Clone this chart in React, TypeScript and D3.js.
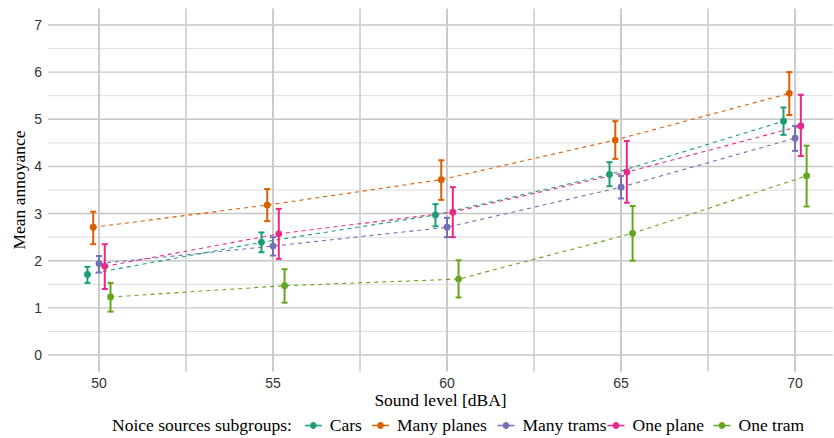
import React from "react";
import * as d3 from "d3";

const levels = [50, 55, 60, 65, 70];
const groups = ["Cars", "Many planes", "Many trams", "One plane", "One tram"];
const colors = ["#1B9E77", "#D95F02", "#7570B3", "#E7298A", "#66A61E"];

const carsMean = [1.71, 2.39, 2.97, 3.83, 4.96];
const manyPlanesMean = [2.71, 3.18, 3.72, 4.56, 5.55];
const manyTramsMean = [1.94, 2.31, 2.71, 3.56, 4.6];
const onePlaneMean = [1.88, 2.57, 3.03, 3.88, 4.86];
const oneTramMean = [1.23, 1.47, 1.61, 2.58, 3.8];

const carsLow = [1.53, 2.18, 2.73, 3.58, 4.67];
const manyPlanesLow = [2.35, 2.84, 3.29, 4.16, 5.09];
const manyTramsLow = [1.75, 2.11, 2.5, 3.32, 4.33];
const onePlaneLow = [1.4, 2.04, 2.5, 3.23, 4.22];
const oneTramLow = [0.92, 1.11, 1.22, 2.0, 3.15];

const carsHigh = [1.87, 2.6, 3.2, 4.09, 5.25];
const manyPlanesHigh = [3.04, 3.52, 4.13, 4.96, 6.0];
const manyTramsHigh = [2.1, 2.5, 2.91, 3.8, 4.86];
const onePlaneHigh = [2.35, 3.1, 3.56, 4.54, 5.52];
const oneTramHigh = [1.53, 1.82, 2.01, 3.16, 4.44];

const xTicks = [50, 55, 60, 65, 70];
const xMinor = [52.5, 57.5, 62.5, 67.5];
const yTicks = [0, 1, 2, 3, 4, 5, 6, 7];
const yMinor = [0.5, 1.5, 2.5, 3.5, 4.5, 5.5, 6.5];

const means = [carsMean, manyPlanesMean, manyTramsMean, onePlaneMean, oneTramMean];
const lows = [carsLow, manyPlanesLow, manyTramsLow, onePlaneLow, oneTramLow];
const highs = [carsHigh, manyPlanesHigh, manyTramsHigh, onePlaneHigh, oneTramHigh];

const W = 834;
const H = 438;
const panel = { left: 48, right: 833, top: 8.5, bottom: 371.5 };
const dodgeWidth = 0.83;

const legendTitleX = 112;
const legendKeyX = [313.3, 380.5, 506, 616, 722];
const legendTextGap = 16.5;

export default function App() {
  const x = d3.scaleLinear().domain([48.535, 71.09]).range([panel.left, panel.right]);
  const y = d3.scaleLinear().domain([-0.35, 7.35]).range([panel.bottom, panel.top]);
  const line = d3
    .line<[number, number]>()
    .x((d) => x(d[0]))
    .y((d) => y(d[1]));

  const series = groups.map((g, gi) => {
    const off = (gi - (groups.length - 1) / 2) * (dodgeWidth / groups.length);
    const pts = levels.map((lv, i) => ({
      x: lv + off,
      m: means[gi][i],
      lo: lows[gi][i],
      hi: highs[gi][i],
    }));
    return { g, gi, color: colors[gi], pts };
  });

  const sans = "'Liberation Sans', Arial, sans-serif";
  const serif = "'Liberation Serif', 'Times New Roman', serif";
  const titleSize = 17.5;

  return (
    <svg
      width={W}
      height={H}
      style={{ position: "absolute", left: 0, top: 0, background: "#fff" }}
    >
      {/* grid */}
      {yMinor.map((v) => (
        <line key={"ym" + v} x1={panel.left} x2={panel.right} y1={y(v)} y2={y(v)} stroke="#dcdcdc" strokeWidth={1} />
      ))}
      {yTicks.map((v) => (
        <line key={"yM" + v} x1={panel.left} x2={panel.right} y1={y(v)} y2={y(v)} stroke="#c6c6c6" strokeWidth={1.4} />
      ))}
      {xMinor.map((v) => (
        <line key={"xm" + v} x1={x(v)} x2={x(v)} y1={panel.top} y2={panel.bottom} stroke="#d2d2d2" strokeWidth={1.8} />
      ))}
      {xTicks.map((v) => (
        <line key={"xM" + v} x1={x(v)} x2={x(v)} y1={panel.top} y2={panel.bottom} stroke="#cbcbcb" strokeWidth={2} />
      ))}

      {/* lines */}
      {series.map((s) => (
        <path
          key={"l" + s.g}
          d={line(s.pts.map((p) => [p.x, p.m]) as [number, number][]) || ""}
          fill="none"
          stroke={s.color}
          strokeWidth={1.1}
          strokeDasharray="4,4"
        />
      ))}

      {/* error bars */}
      {series.map((s) =>
        s.pts.map((p, i) => (
          <g key={"e" + s.g + i} stroke={s.color} strokeWidth={2}>
            <line x1={x(p.x)} x2={x(p.x)} y1={y(p.lo)} y2={y(p.hi)} />
            <line x1={x(p.x) - 3} x2={x(p.x) + 3} y1={y(p.lo)} y2={y(p.lo)} />
            <line x1={x(p.x) - 3} x2={x(p.x) + 3} y1={y(p.hi)} y2={y(p.hi)} />
          </g>
        ))
      )}

      {/* points */}
      {series.map((s) =>
        s.pts.map((p, i) => (
          <circle key={"p" + s.g + i} cx={x(p.x)} cy={y(p.m)} r={3.4} fill={s.color} />
        ))
      )}

      {/* y tick labels */}
      {yTicks.map((v) => (
        <text key={"yt" + v} x={42} y={y(v)} dy="0.36em" textAnchor="end" fontFamily={sans} fontSize={14} fill="#333">
          {v}
        </text>
      ))}
      {/* x tick labels */}
      {xTicks.map((v) => (
        <text key={"xt" + v} x={x(v)} y={388} textAnchor="middle" fontFamily={sans} fontSize={14} fill="#333">
          {v}
        </text>
      ))}

      {/* axis titles */}
      <text
        transform={`translate(25,${(panel.top + panel.bottom) / 2}) rotate(-90)`}
        textAnchor="middle"
        fontFamily={serif}
        fontSize={titleSize}
        fill="#000"
      >
        Mean annoyance
      </text>
      <text x={(panel.left + panel.right) / 2} y={406} textAnchor="middle" fontFamily={serif} fontSize={titleSize} fill="#000">
        Sound level [dBA]
      </text>

      {/* legend */}
      <text x={legendTitleX} y={431} fontFamily={serif} fontSize={titleSize} fill="#000">
        Noice sources subgroups:
      </text>
      {groups.map((g, gi) => (
        <g key={"lg" + g}>
          <line x1={legendKeyX[gi] - 8.5} x2={legendKeyX[gi] + 8.5} y1={425.5} y2={425.5} stroke={colors[gi]} strokeWidth={1.5} />
          <line x1={legendKeyX[gi]} x2={legendKeyX[gi]} y1={422} y2={429} stroke={colors[gi]} strokeWidth={2} />
          <circle cx={legendKeyX[gi]} cy={425.5} r={3.2} fill={colors[gi]} />
          <text x={legendKeyX[gi] + legendTextGap} y={431} fontFamily={serif} fontSize={titleSize} fill="#000">
            {g}
          </text>
        </g>
      ))}
    </svg>
  );
}
